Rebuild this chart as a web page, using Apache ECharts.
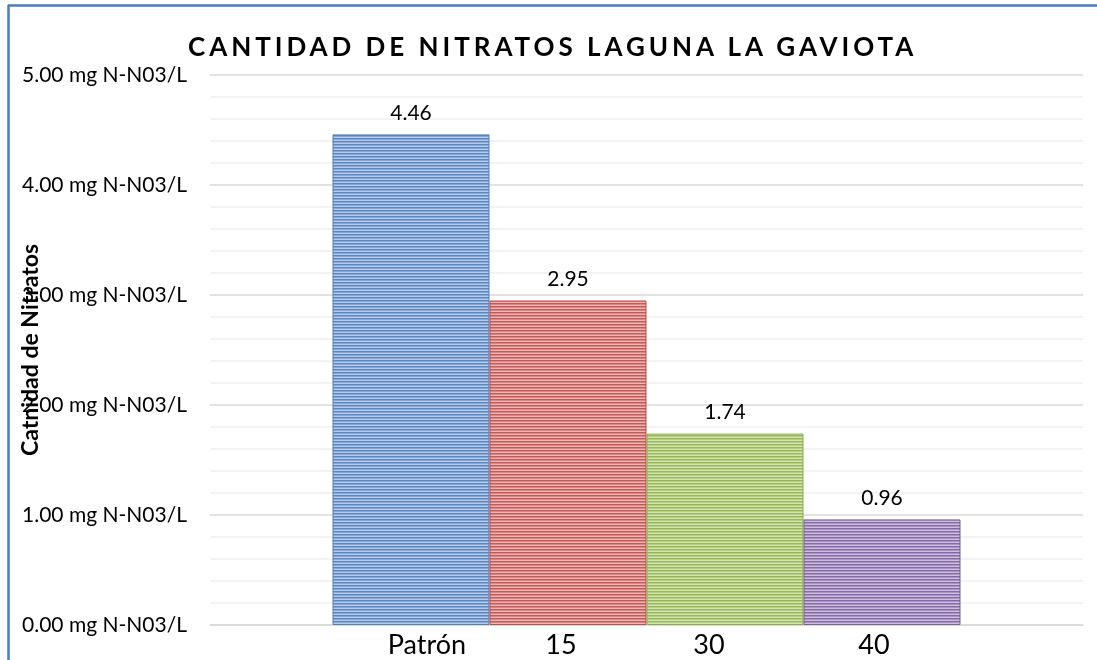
<!DOCTYPE html>
<html>
<head>
<meta charset="utf-8">
<script src="https://cdn.jsdelivr.net/npm/echarts@6/dist/echarts.min.js"></script>
<style>
    html, body {margin: 0; padding: 0; background: #fff;}
    #wrap {position: relative; width: 1097px; height: 660px;}
    #chart {width: 1097px; height: 660px;}
    #title {
        position: absolute; left: 188px; top: 30px; white-space: nowrap;
        font: bold 26px Lato, sans-serif; color: #000; line-height: 32px;
    }
</style>
</head>
<body>
<div id="wrap">
    <div id="chart"></div>
    <div id="title">CANTIDAD DE NITRATOS LAGUNA LA GAVIOTA</div>
</div>
<script>
const categories = ['Patrón', '15', '30', '40'];
const values = [4.46, 2.95, 1.74, 0.96];
const yTicks = [0, 1, 2, 3, 4, 5];

// dark row, mid row, light row, edge
const palette = [
    ['#5a88c5', '#87a8d6', '#b7cbe7', '#4f7fbd'],
    ['#c45957', '#d98785', '#ebb8b7', '#b94b48'],
    ['#98b857', '#b6cf84', '#d5e4b5', '#8aab4a'],
    ['#876aa9', '#a893c2', '#cbbfdc', '#7a5c9c']
];
// where the category texts sit under the bars
const catLabelX = [427, 561, 709, 874];

function stripes(c) {
    let cv = document.createElement('canvas');
    cv.width = 4;
    cv.height = 3;
    let ctx = cv.getContext('2d');
    ctx.fillStyle = c[0]; ctx.fillRect(0, 0, 4, 1);
    ctx.fillStyle = c[1]; ctx.fillRect(0, 1, 4, 1);
    ctx.fillStyle = c[2]; ctx.fillRect(0, 2, 4, 1);
    return {image: cv, repeat: 'repeat'};
}

// spread the title letters over its original width
(function () {
    let t = document.getElementById('title');
    let ctx = document.createElement('canvas').getContext('2d');
    ctx.font = 'bold 26px Lato';
    let w = ctx.measureText(t.textContent).width;
    let n = t.textContent.length;
    t.style.letterSpacing = ((727 - w) / (n - 1)).toFixed(2) + 'px';
})();

const chart = echarts.init(document.getElementById('chart'));

const option = {
    animation: false,
    textStyle: {fontFamily: 'Lato'},
    grid: {left: 210, right: 14, top: 75, bottom: 35, containLabel: false, outerBoundsMode: 'none'},
    xAxis: {
        type: 'category',
        data: [''],
        axisTick: {show: false},
        axisLabel: {show: false},
        axisLine: {lineStyle: {color: '#d9d9d9', width: 1.5}}
    },
    yAxis: {
        type: 'value',
        min: yTicks[0],
        max: yTicks[yTicks.length - 1],
        interval: 1,
        name: 'Catnidad de Nitratos',
        nameLocation: 'middle',
        nameGap: 168,
        nameMoveOverlap: false,
        nameTextStyle: {fontSize: 23, fontWeight: 'bold', color: '#000', fontFamily: 'Lato'},
        axisLine: {show: false},
        axisTick: {show: false},
        axisLabel: {
            margin: 23,
            fontSize: 21,
            color: '#000',
            formatter: (v) => v.toFixed(2) + ' mg N-N03/L'
        },
        splitLine: {lineStyle: {color: '#d9d9d9', width: 1.5}},
        minorTick: {show: false, splitNumber: 5},
        minorSplitLine: {show: true, lineStyle: {color: '#efefef', width: 1.5}}
    },
    series: categories.map((name, i) => ({
        name: name,
        type: 'bar',
        data: [values[i]],
        barWidth: 157,
        barGap: '0%',
        itemStyle: {color: stripes(palette[i]), borderColor: palette[i][3], borderWidth: 1},
        label: {
            show: true,
            position: 'top',
            distance: 11,
            fontSize: 21,
            color: '#000',
            formatter: (p) => p.value.toFixed(2)
        }
    })),
    graphic: [
        {type: 'line', shape: {x1: 8.5, y1: 5, x2: 8.5, y2: 660}, style: {stroke: '#4a7dbf', lineWidth: 2.5}},
        {type: 'line', shape: {x1: 8, y1: 5.5, x2: 1097, y2: 5.5}, style: {stroke: '#4a7dbf', lineWidth: 2.5}}
    ].concat(categories.map((c, i) => ({
        type: 'text',
        x: catLabelX[i],
        y: 645,
        style: {text: c, fontSize: 27, fontFamily: 'Lato', fill: '#000', align: 'center', verticalAlign: 'middle'}
    })))
};

chart.setOption(option);
</script>
</body>
</html>
